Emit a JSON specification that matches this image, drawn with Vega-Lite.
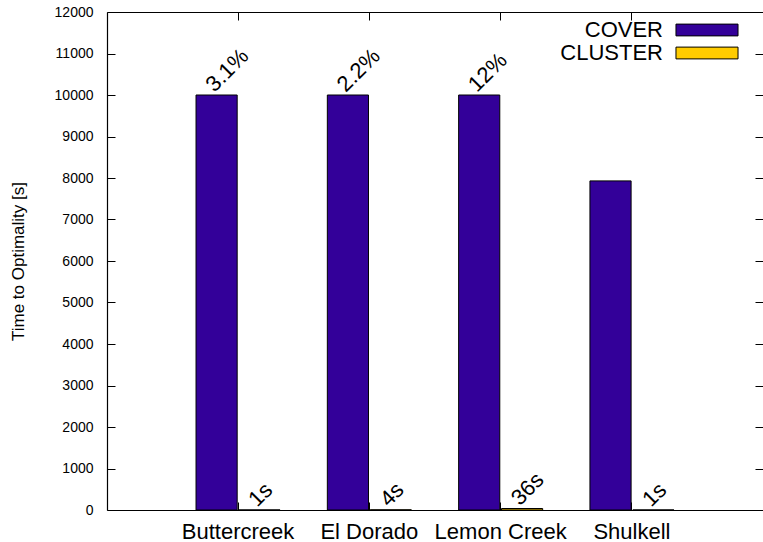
{
  "$schema": "https://vega.github.io/schema/vega-lite/v6.json",
  "width": 656,
  "height": 498,
  "autosize": "none",
  "padding": {"left": 107, "top": 12, "right": 0, "bottom": 32},
  "background": "white",
  "config": {
    "font": "Liberation Sans",
    "view": {"stroke": null},
    "axis": {"domainColor": "black", "tickColor": "black", "labelColor": "black", "titleColor": "black", "grid": false}
  },
  "data": {
    "values": [
      {"site": "Buttercreek", "method": "COVER", "time": 10000, "label": "3.1%"},
      {"site": "Buttercreek", "method": "CLUSTER", "time": 1, "label": "1s"},
      {"site": "El Dorado", "method": "COVER", "time": 10000, "label": "2.2%"},
      {"site": "El Dorado", "method": "CLUSTER", "time": 4, "label": "4s"},
      {"site": "Lemon Creek", "method": "COVER", "time": 10000, "label": "12%"},
      {"site": "Lemon Creek", "method": "CLUSTER", "time": 36, "label": "36s"},
      {"site": "Shulkell", "method": "COVER", "time": 7930, "label": ""},
      {"site": "Shulkell", "method": "CLUSTER", "time": 1, "label": "1s"}
    ]
  },
  "layer": [
    {
      "mark": {"type": "bar", "stroke": "black", "strokeWidth": 1},
      "encoding": {
        "x": {
          "field": "site", "type": "nominal", "sort": null, "title": null,
          "scale": {"paddingInner": 0.36, "paddingOuter": 0.678},
          "axis": {"orient": "bottom", "labelAngle": 0, "labelFontSize": 22, "tickSize": -8, "labelPadding": 19, "domainWidth": 1.2, "tickWidth": 1}
        },
        "xOffset": {"field": "method", "sort": ["COVER", "CLUSTER"], "scale": {"paddingInner": 0.04}},
        "y": {
          "field": "time", "type": "quantitative", "title": "Time to Optimality [s]",
          "scale": {"domain": [0, 12000], "nice": false},
          "axis": {"orient": "left", "values": [0,1000,2000,3000,4000,5000,6000,7000,8000,9000,10000,11000,12000], "format": "d", "labelFontSize": 14, "tickSize": -8, "labelPadding": 22, "titleFontSize": 17, "titleFontWeight": "normal", "titlePadding": 27, "domainWidth": 1.2}
        },
        "color": {
          "field": "method", "type": "nominal",
          "scale": {"domain": ["COVER", "CLUSTER"], "range": ["#330099", "#ffcc00"]},
          "legend": {
            "title": null, "orient": "none", "legendX": 589, "legendY": 7,
            "symbolType": "M-5,-0.95H5V0.95H-5Z", "symbolSize": 154, "symbolStrokeColor": "black", "symbolStrokeWidth": 1, "symbolOpacity": 1,
            "labelFontSize": 22, "labelColor": "black", "labelAlign": "right", "labelOffset": -55, "rowPadding": 1
          }
        }
      }
    },
    {
      "mark": {"type": "text", "angle": -45, "align": "left", "baseline": "alphabetic", "fontSize": 22, "dy": -3, "color": "black"},
      "encoding": {
        "x": {"field": "site", "type": "nominal", "sort": null, "axis": null},
        "xOffset": {"field": "method", "sort": ["COVER", "CLUSTER"]},
        "y": {"field": "time", "type": "quantitative", "axis": null},
        "text": {"field": "label"}
      }
    },
    {
      "mark": {"type": "point", "opacity": 0},
      "encoding": {
        "x": {"field": "site", "type": "nominal", "sort": null, "axis": {"orient": "top", "labels": false, "title": null, "tickSize": -8, "domainWidth": 1.2}},
        "y": {"field": "time", "type": "quantitative", "axis": {"orient": "right", "labels": false, "title": null, "domain": false, "tickSize": -8, "values": [0,1000,2000,3000,4000,5000,6000,7000,8000,9000,10000,11000,12000]}}
      }
    }
  ],
  "resolve": {"axis": {"x": "independent", "y": "independent"}}
}
